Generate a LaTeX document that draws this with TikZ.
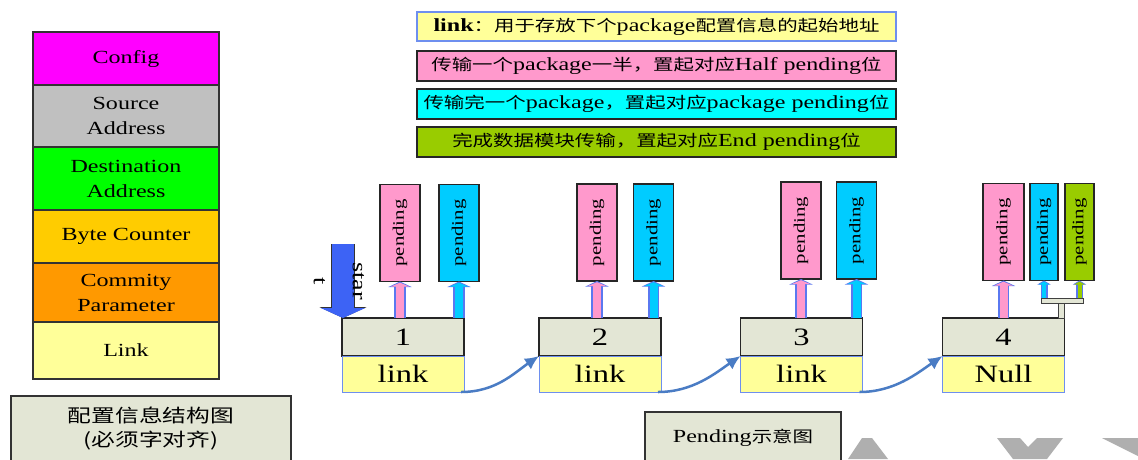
\documentclass[tikz,border=0pt]{standalone}
\usepackage{fontspec}
\setmainfont[FakeStretch=1.3]{Liberation Serif}
\newfontfamily\zh[FakeStretch=1.3,Scale=0.85]{Noto Sans CJK SC}
\usetikzlibrary{arrows.meta,positioning}

\definecolor{cfg}{HTML}{FF00FF}
\definecolor{gris}{HTML}{C0C0C0}
\definecolor{verde}{HTML}{00FF00}
\definecolor{ambar}{HTML}{FFCC00}
\definecolor{naranja}{HTML}{FF9900}
\definecolor{amarillo}{HTML}{FFFF99}
\definecolor{grisv}{HTML}{E3E6D5}
\definecolor{rosa}{HTML}{FF99CC}
\definecolor{cian}{HTML}{00CCFF}
\definecolor{cianc}{HTML}{00FFFF}
\definecolor{oliva}{HTML}{99CC00}
\definecolor{azul}{HTML}{5A78F0}
\definecolor{azulc}{HTML}{4A7CC4}
\definecolor{azulf}{HTML}{3D63F5}
\definecolor{borde}{HTML}{6E8FEF}
\definecolor{marca}{HTML}{AFAFAF}

% chinese run inside latin text
\newcommand{\zi}[1]{{\zh\mdseries #1}}

\begin{document}
\begin{tikzpicture}[x=1pt,y=-1pt,
  campo/.style={draw=black!80,line width=1.2pt,minimum width=186pt,outer sep=0pt,
                inner sep=0pt,align=center,font=\fontsize{18.5}{25}\selectfont},
  ley/.style={draw=black!85,line width=1.2pt,minimum width=479pt,minimum height=30pt,
              outer sep=0pt,inner sep=0pt,font=\fontsize{18.5}{22}\selectfont},
  cab/.style={draw=black!85,fill=grisv,line width=1.2pt,minimum width=122pt,
              minimum height=38pt,outer sep=0pt,inner sep=0pt,font=\fontsize{25}{28}\selectfont},
  lnk/.style={draw=borde,fill=amarillo,line width=1pt,minimum width=122pt,
              minimum height=36pt,outer sep=0pt,inner sep=0pt,font=\fontsize{25}{28}\selectfont},
  pend/.style={draw=black!85,line width=1.1pt,rotate=90,minimum width=97pt,
               minimum height=40pt,inner sep=0pt,outer sep=0pt,font=\fontsize{16}{18}\selectfont},
  union/.style={draw=black!75,fill=grisv,line width=1pt,inner sep=0pt,outer sep=0pt},
  pfl/.style={draw=#1,line width=8pt,-{Triangle[width=19pt,length=4pt]},shorten >=1.2pt,
              preaction={draw=azul,line width=11.5pt,-{Triangle[width=23pt,length=5.5pt]},shorten >=0pt}},
  pflp/.style={draw=#1,line width=4pt,-{Triangle[width=10pt,length=3pt]},shorten >=1pt,
               preaction={draw=azul,line width=7pt,-{Triangle[width=13pt,length=4pt]},shorten >=0pt}},
  inicio/.style={draw=azulf,line width=22pt,-{Triangle[width=44pt,length=10pt]},
                 preaction={draw=black!80,line width=24pt,-{Triangle[width=47pt,length=11pt]}}},
  curva/.style={draw=azulc,line width=2.5pt,-{Latex[length=14pt,width=13pt]}},
  nota/.style={draw=black!80,fill=grisv,line width=1.2pt,outer sep=0pt,inner sep=0pt,align=center}]
  \useasboundingbox (0,0) rectangle (1138,459);
  \clip (0,0) rectangle (1138,459);
  \fill[white] (0,0) rectangle (1138,459);

  % configuration record
  \node[campo,fill=cfg,minimum height=53pt,anchor=north west] (cfg) at (33,32) {Config};
  \node[campo,fill=gris,minimum height=62pt,below=0pt of cfg] (src) {Source\\Address};
  \node[campo,fill=verde,minimum height=63pt,below=0pt of src] (dst) {Destination\\Address};
  \node[campo,fill=ambar,minimum height=53pt,below=0pt of dst] (cnt) {Byte Counter};
  \node[campo,fill=naranja,minimum height=59pt,below=0pt of cnt] (par) {Commity\\Parameter};
  \node[campo,fill=amarillo,minimum height=57pt,below=0pt of par] (lnk) {Link};
  \node[nota,minimum width=280pt,minimum height=66pt,anchor=north west,
        font=\zh\fontsize{21.5}{24}\selectfont] (estr) at (11,396) {配置信息结构图\\(必须字对齐)};

  % legend
  \node[ley,fill=amarillo,draw=borde,minimum height=29pt,anchor=north] (l1) at (656.5,12)
    {\textbf{link}\zi{：用于存放下个}package\zi{配置信息的起始地址}};
  \node[ley,fill=rosa,below=10pt of l1] (l2) {\zi{传输一个}package\zi{一半，置起对应}Half pending\zi{位}};
  \node[ley,fill=cianc,below=8pt of l2] (l3) {\zi{传输完一个}package\zi{，置起对应}package pending\zi{位}};
  \node[ley,fill=oliva,below=8pt of l3] (l4) {\zi{完成数据模块传输，置起对应}End pending\zi{位}};

  % descriptors
  \node[cab] (c1) at (403,337) {1};
  \node[lnk,below=0pt of c1] (e1) {link};
  \node[cab] (c2) at (600,337) {2};
  \node[lnk,below=0pt of c2] (e2) {link};
  \node[cab] (c3) at (801.5,337) {3};
  \node[lnk,below=0pt of c3] (e3) {link};
  \node[cab] (c4) at (1003.5,337) {4};
  \node[lnk,below=0pt of c4] (e4) {Null};

  % pending bits
  \node[pend,fill=rosa] (p1a) at (400,233) {pending};
  \node[pend,fill=cian] (p1b) at (459,233) {pending};
  \node[pend,fill=rosa] (p2a) at (597,232.5) {pending};
  \node[pend,fill=cian] (p2b) at (653.5,232.5) {pending};
  \node[pend,fill=rosa] (p3a) at (801,230.5) {pending};
  \node[pend,fill=cian] (p3b) at (856.5,230.5) {pending};
  \node[pend,fill=rosa,minimum height=41pt] (p4a) at (1003.5,232) {pending};
  \node[pend,fill=cian,minimum height=28pt] (p4b) at (1044,232) {pending};
  \node[pend,fill=oliva,minimum height=29pt] (p4c) at (1079.5,232) {pending};
  \node[union,minimum width=42pt,minimum height=5pt] (b4) at (1062,300.5) {};
  \node[union,minimum width=6pt,minimum height=15pt,anchor=north] (t4) at (1061,303) {};

  \draw[pfl=rosa] (c1.north -| p1a) -- (p1a.west);
  \draw[pfl=cian] (c1.north -| p1b) -- (p1b.west);
  \draw[pfl=rosa] (c2.north -| p2a) -- (p2a.west);
  \draw[pfl=cian] (c2.north -| p2b) -- (p2b.west);
  \draw[pfl=rosa] (c3.north -| p3a) -- (p3a.west);
  \draw[pfl=cian] (c3.north -| p3b) -- (p3b.west);
  \draw[pfl=rosa] (c4.north -| p4a) -- (p4a.west);
  \draw[pflp=cian] (b4.north -| p4b) -- (p4b.west);
  \draw[pflp=oliva] (b4.north -| p4c) -- (p4c.west);

  % start
  \coordinate (ini) at (343,244);
  \draw[inicio] (ini) -- ([xshift=1pt]c1.north west);
  \node[rotate=-90,align=center,inner sep=0pt,font=\fontsize{20}{22}\selectfont] (txt) at (339,281) {star\\[17pt]t};

  % next pointers
  \draw[curva] ([xshift=-3pt]e1.south east) .. controls +(35,0) and +(-25,17) .. (e2.north west);
  \draw[curva] ([xshift=-3pt]e2.south east) .. controls +(35,0) and +(-25,17) .. (e3.north west);
  \draw[curva] ([xshift=-3pt]e3.south east) .. controls +(35,0) and +(-25,17) .. (e4.north west);

  \node[nota,minimum width=196pt,minimum height=52pt,anchor=north west,
        font=\fontsize{18.5}{22}\selectfont] (pes) at (645,412) {Pending\zi{示意图}};

  % watermark pieces
  \fill[marca] (848,459) -- (862,438) -- (872,438) -- (888,459) -- cycle;
  \fill[marca] (997,438) -- (1020,438) -- (1028,447) -- (1037,438) -- (1063,438) -- (1047,459) -- (1013,459) -- cycle;
  \fill[marca] (1102,438) -- (1138,438) -- (1138,456) -- cycle;
\end{tikzpicture}
\end{document}
